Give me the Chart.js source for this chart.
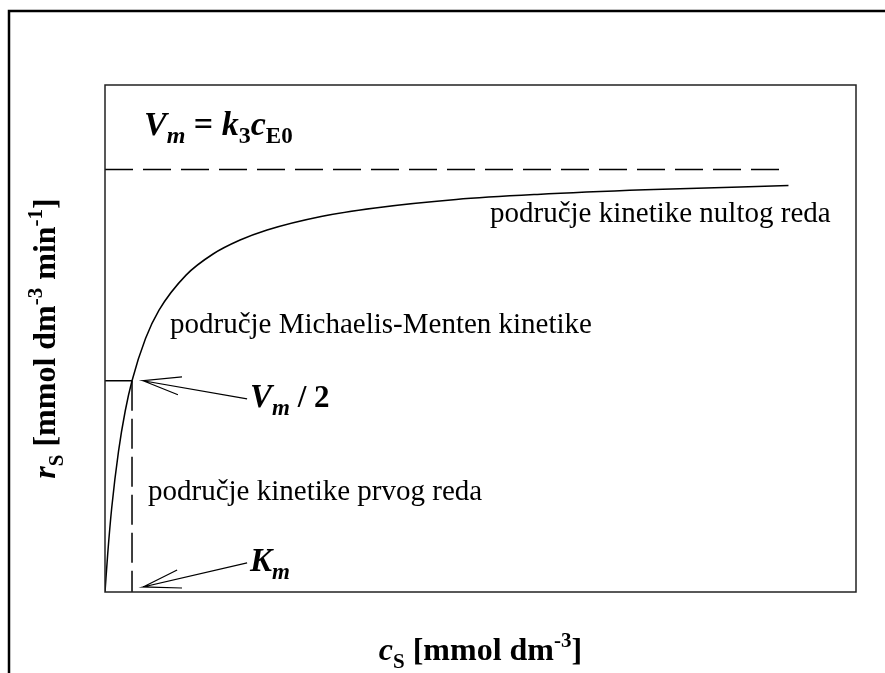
<!DOCTYPE html>
<html>
<head>
<meta charset="utf-8">
<script src="https://cdn.jsdelivr.net/npm/chart.js@4"></script>
<style>
html, body { margin: 0; padding: 0; background: #fff; }
#wrap { width: 885px; height: 673px; }
</style>
</head>
<body>
<div id="wrap"><canvas id="mmChart" width="885" height="673"></canvas></div>
<script>
// substrate concentration (units of Km) and rate (units of Vm)
var cS = [0, 0.1, 0.25, 0.5, 0.75, 1, 1.5, 2, 3, 4, 5, 6, 8, 10, 13, 16, 20, 25.3];
var rS = [0, 0.09, 0.2, 0.333, 0.429, 0.5, 0.6, 0.667, 0.75, 0.8, 0.833, 0.857, 0.889, 0.909, 0.929, 0.941, 0.952, 0.962];

var vMax = 1;       // V_m asymptote
var kM = 1;         // K_m
var cSEnd = 25.3;   // asymptote stops here
var xMax = 27.8;
var yMax = 1.2;

var SERIF = '"Liberation Serif", "Times New Roman", serif';

function toPoints(xs, ys) {
    var pts = [];
    for (var i = 0; i < xs.length; i++) {
        pts.push({x: xs[i], y: ys[i]});
    }
    return pts;
}

function lineSet(data, dash) {
    return {
        data: data,
        showLine: true,
        borderColor: '#000',
        borderWidth: 1.5,
        borderDash: dash || [],
        pointRadius: 0,
        fill: false
    };
}

// parts: [text, fontSpec, dy]
function richText(ctx, x, y, parts, align) {
    var w = 0;
    parts.forEach(function (p) {
        ctx.font = p[1] + ' ' + SERIF;
        w += ctx.measureText(p[0]).width;
    });
    var cx = align === 'center' ? x - w / 2 : x;
    parts.forEach(function (p) {
        ctx.font = p[1] + ' ' + SERIF;
        ctx.fillText(p[0], cx, y + (p[2] || 0));
        cx += ctx.measureText(p[0]).width;
    });
}

var decor = {
    id: 'decor',
    afterDraw: function (chart) {
        var ctx = chart.ctx;
        var a = chart.chartArea;
        var xs = chart.scales.x, ys = chart.scales.y;
        var px = function (v) { return xs.getPixelForValue(v); };
        var py = function (v) { return ys.getPixelForValue(v); };

        ctx.save();
        ctx.strokeStyle = '#000';
        ctx.fillStyle = '#000';
        ctx.textBaseline = 'alphabetic';

        // outer frame
        ctx.lineWidth = 2.5;
        ctx.beginPath();
        ctx.moveTo(9, chart.height);
        ctx.lineTo(9, 11);
        ctx.lineTo(chart.width, 11);
        ctx.stroke();

        // plot box
        ctx.lineWidth = 1.5;
        ctx.strokeStyle = '#222';
        ctx.strokeRect(a.left, a.top, a.right - a.left, a.bottom - a.top);

        // arrows (tail, tip, barb1, barb2) in data units
        ctx.strokeStyle = '#000';
        ctx.lineWidth = 1.2;
        var arrows = [
            [[5.26, 0.457], [1.41, 0.5], [2.85, 0.509], [2.70, 0.467]],
            [[5.26, 0.069], [1.41, 0.012], [2.85, 0.0095], [2.67, 0.052]]
        ];
        arrows.forEach(function (ar) {
            ctx.beginPath();
            ctx.moveTo(px(ar[0][0]), py(ar[0][1]));
            ctx.lineTo(px(ar[1][0]), py(ar[1][1]));
            ctx.lineTo(px(ar[2][0]), py(ar[2][1]));
            ctx.moveTo(px(ar[1][0]), py(ar[1][1]));
            ctx.lineTo(px(ar[3][0]), py(ar[3][1]));
            ctx.stroke();
        });

        // annotations
        richText(ctx, 144, 135, [
            ['V', 'italic bold 34px'], ['m', 'italic bold 24px', 8], [' = ', 'bold 34px'],
            ['k', 'italic bold 34px'], ['3', 'bold 24px', 8], ['c', 'italic bold 34px'], ['E0', 'bold 23px', 8]
        ]);
        richText(ctx, 490, 222, [['područje kinetike nultog reda', '29px']]);
        richText(ctx, 170, 333, [['područje Michaelis-Menten kinetike', '29px']]);
        richText(ctx, 250, 407, [
            ['V', 'italic bold 33px'], ['m', 'italic bold 23px', 8], [' / 2', 'bold 31px']
        ]);
        richText(ctx, 148, 500, [['područje kinetike prvog reda', '29px']]);
        richText(ctx, 250, 571, [
            ['K', 'italic bold 33px'], ['m', 'italic bold 23px', 8]
        ]);

        // x title
        richText(ctx, (a.left + a.right) / 2, 660, [
            ['c', 'italic bold 32px'], ['S', 'bold 21px', 8], [' [mmol dm', 'bold 32px'],
            ['-3', 'bold 21px', -13], [']', 'bold 32px']
        ], 'center');

        // y title
        ctx.translate(55, (a.top + a.bottom) / 2);
        ctx.rotate(-Math.PI / 2);
        richText(ctx, 0, 0, [
            ['r', 'italic bold 32px'], ['S', 'bold 21px', 8], [' [mmol dm', 'bold 32px'],
            ['-3', 'bold 21px', -13], [' min', 'bold 32px'], ['-1', 'bold 21px', -13], [']', 'bold 32px']
        ], 'center');

        ctx.restore();
    }
};

var mmChart = new Chart(document.getElementById('mmChart').getContext('2d'), {
    type: 'scatter',
    data: {
        datasets: [
            Object.assign(lineSet(toPoints(cS, rS)), {cubicInterpolationMode: 'monotone'}),
            lineSet([{x: 0, y: vMax}, {x: cSEnd, y: vMax}], [28, 10]),
            lineSet([{x: 0, y: vMax / 2}, {x: kM, y: vMax / 2}]),
            lineSet([{x: kM, y: vMax / 2}, {x: kM, y: 0}], [30, 8])
        ]
    },
    options: {
        responsive: false,
        animation: false,
        layout: { padding: { left: 105, top: 85, right: 29, bottom: 81 } },
        plugins: { legend: { display: false }, tooltip: { enabled: false } },
        scales: {
            x: { type: 'linear', min: 0, max: xMax, display: false },
            y: { type: 'linear', min: 0, max: yMax, display: false }
        }
    },
    plugins: [decor]
});
</script>
</body>
</html>
